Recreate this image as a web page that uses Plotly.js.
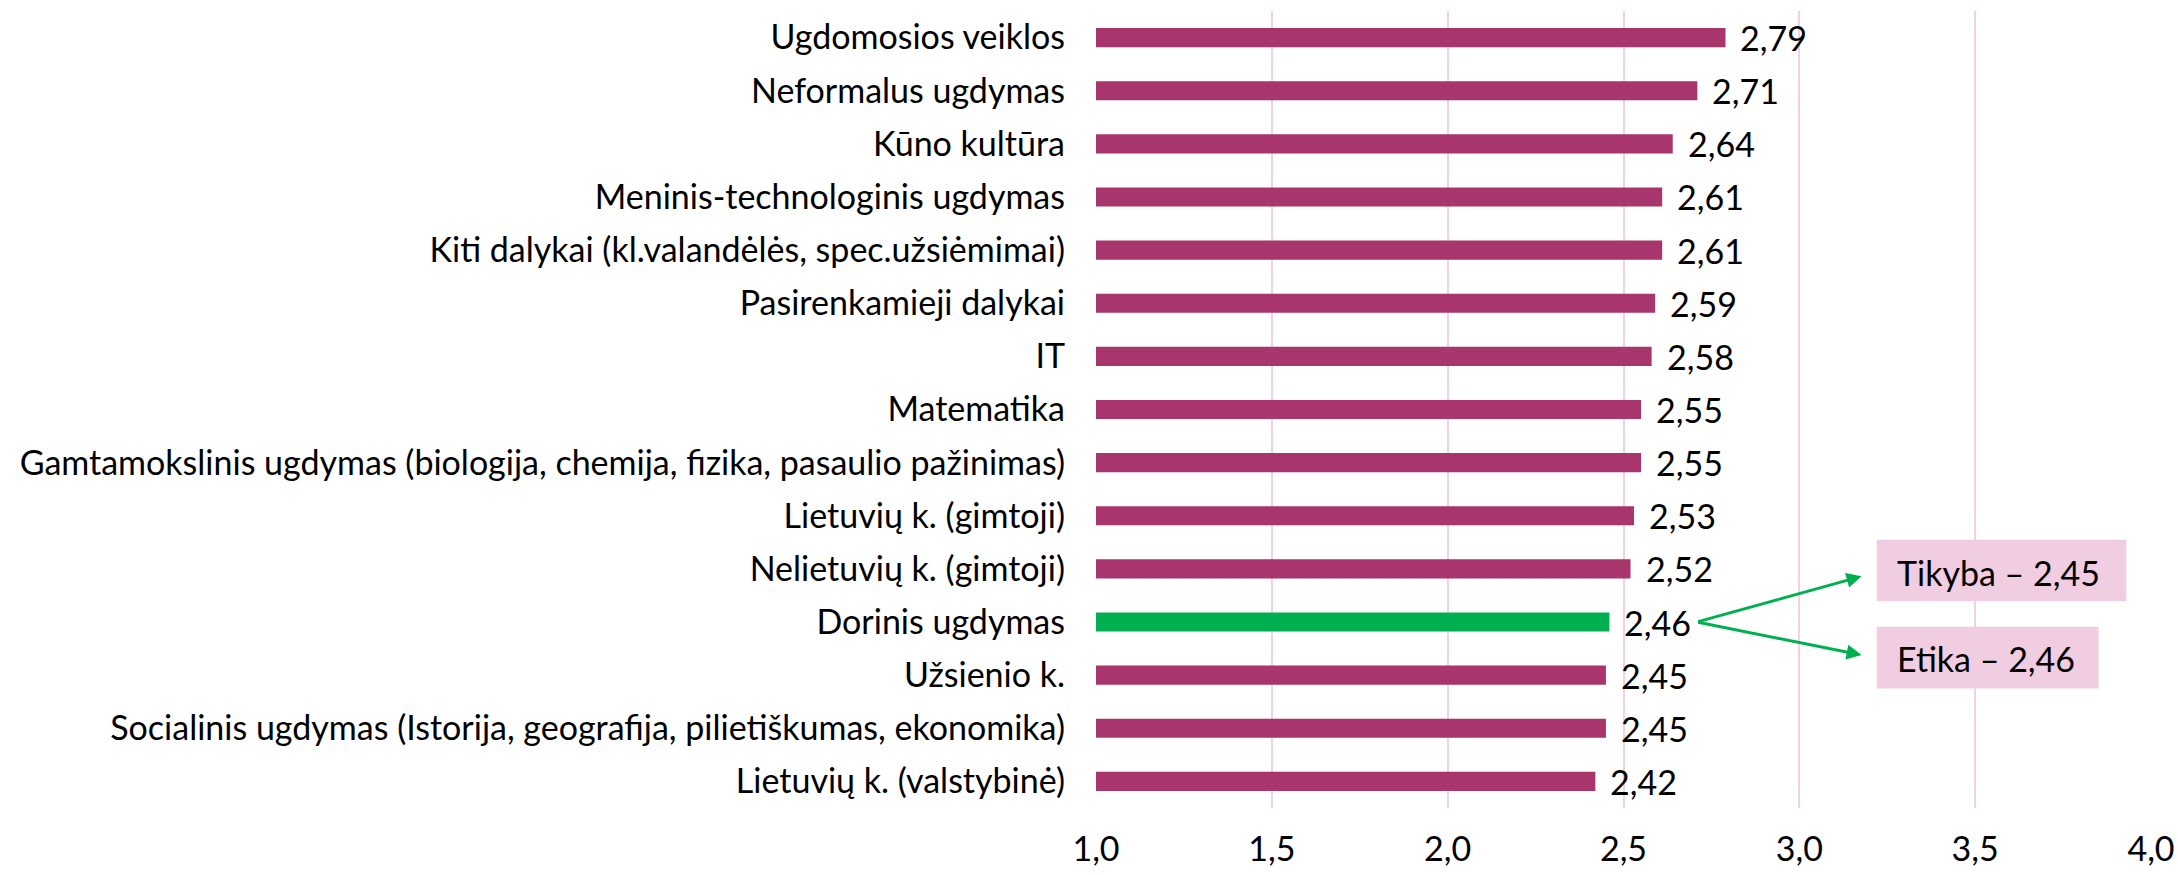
<!DOCTYPE html>
<html>
<head>
<meta charset="utf-8">
<script src="https://cdn.plot.ly/plotly-3.0.1.min.js"></script>
<style>html,body{margin:0;padding:0;background:#fff;}#chart{width:2178px;height:875px;}</style>
</head>
<body>
<div id="chart"></div>
<script>
const categories = [
  "Ugdomosios veiklos",
  "Neformalus ugdymas",
  "Kūno kultūra",
  "Meninis-technologinis ugdymas",
  "Kiti dalykai (kl.valandėlės, spec.užsiėmimai)",
  "Pasirenkamieji dalykai",
  "IT",
  "Matematika",
  "Gamtamokslinis ugdymas (biologija, chemija, fizika, pasaulio pažinimas)",
  "Lietuvių k. (gimtoji)",
  "Nelietuvių k. (gimtoji)",
  "Dorinis ugdymas",
  "Užsienio k.",
  "Socialinis ugdymas (Istorija, geografija, pilietiškumas, ekonomika)",
  "Lietuvių k. (valstybinė)"
];
const values = [2.79, 2.71, 2.64, 2.61, 2.61, 2.59, 2.58, 2.55, 2.55, 2.53, 2.52, 2.46, 2.45, 2.45, 2.42];
const highlighted = "Dorinis ugdymas";
const subLabels = ["Tikyba", "Etika"];
const subValues = [2.45, 2.46];
const xTicks = [1.0, 1.5, 2.0, 2.5, 3.0, 3.5, 4.0];

const FONT = "Lato, 'Open Sans', sans-serif";
const FS = 34;
const fmt = v => v.toFixed(2).replace('.', ',');

const barColors = categories.map(c => c === highlighted ? '#00B050' : '#A8366C');

const trace = {
  type: 'bar',
  orientation: 'h',
  y: categories,
  x: values.map(v => v - 1),
  base: 1,
  marker: {color: barColors},
  width: 0.36,
  hoverinfo: 'skip'
};

const annotations = categories.map((c, i) => ({
  x: values[i], y: c, xref: 'x', yref: 'y',
  text: fmt(values[i]), showarrow: false,
  xanchor: 'left', yanchor: 'middle', xshift: 13,
  font: {family: FONT, size: FS, color: '#000'}
}));

const hiIdx = categories.indexOf(highlighted);
const boxCfg = [
  {x0: 3.22, x1: 3.93, y0: hiIdx - 1.55, y1: hiIdx - 0.39, ty: hiIdx - 0.94, hy: hiIdx - 0.86},
  {x0: 3.22, x1: 3.851, y0: hiIdx + 0.09, y1: hiIdx + 1.25, ty: hiIdx + 0.69, hy: hiIdx + 0.62}
];
const shapes = [];
subLabels.forEach((lab, i) => {
  const b = boxCfg[i];
  shapes.push({type: 'rect', xref: 'x', yref: 'y', x0: b.x0, x1: b.x1, y0: b.y0, y1: b.y1,
    fillcolor: '#F0CDE0', line: {width: 0}, layer: 'above'});
  annotations.push({x: b.x0, y: b.ty, xref: 'x', yref: 'y', text: lab + ' – ' + fmt(subValues[i]),
    showarrow: false, xanchor: 'left', yanchor: 'middle', xshift: 18,
    font: {family: FONT, size: FS, color: '#000'}});
  annotations.push({x: 3.177, y: b.hy, xref: 'x', yref: 'y', ax: 2.708, ay: hiIdx,
    axref: 'x', ayref: 'y', text: '', showarrow: true, arrowhead: 2, arrowsize: 1,
    arrowwidth: 3, arrowcolor: '#00B050', standoff: 0, startstandoff: 0});
});

const layout = {
  width: 2178, height: 875,
  margin: {l: 1096, r: 27, t: 11, b: 67},
  paper_bgcolor: '#fff', plot_bgcolor: '#fff',
  separators: ',.',
  showlegend: false,
  xaxis: {
    range: [1, 4], tickvals: xTicks, tickformat: '.1f',
    showgrid: true, gridcolor: '#EFD3E2', gridwidth: 2,
    zeroline: false, showline: false, ticks: '',
    ticklabelstandoff: 18,
    tickfont: {family: FONT, size: FS, color: '#000'}
  },
  yaxis: {
    type: 'category', categoryorder: 'array', categoryarray: categories,
    range: [categories.length - 0.5, -0.5],
    showgrid: false, zeroline: false, showline: false, ticks: '',
    ticklabelstandoff: 30,
    tickfont: {family: FONT, size: FS, color: '#000'}
  },
  shapes: shapes,
  annotations: annotations
};

Plotly.newPlot('chart', [trace], layout, {displayModeBar: false, staticPlot: true});
</script>
</body>
</html>
